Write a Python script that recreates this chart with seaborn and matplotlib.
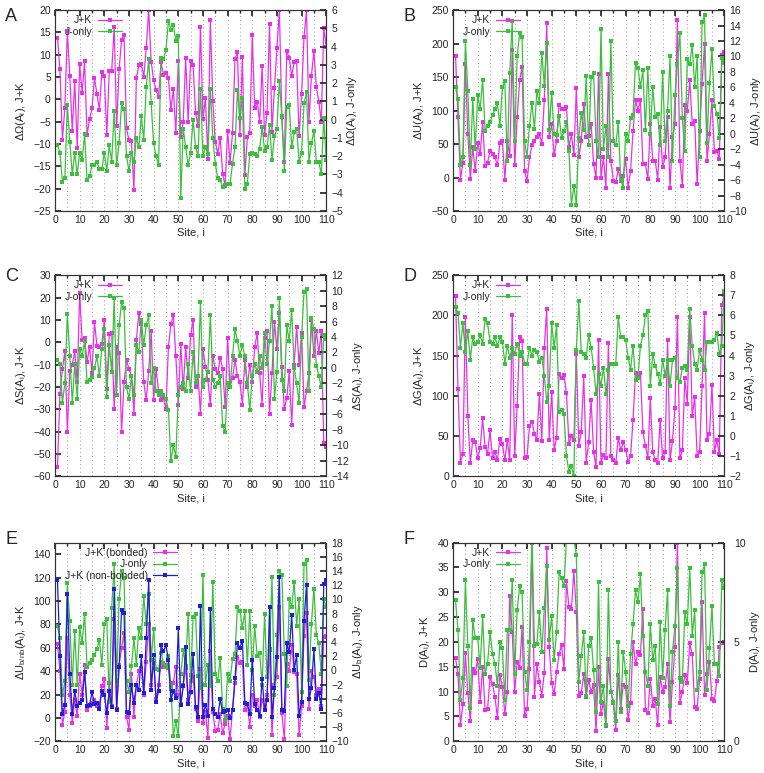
import matplotlib
matplotlib.use('Agg')
import matplotlib.pyplot as plt
from matplotlib.ticker import MultipleLocator
import seaborn as sns

# site index shared by all six panels
site = list(range(1, 111))

# A: free-energy change, J+K (left) and J-only (right)
a_jk = [13.8, 6.7, -9, -2, 15.3, 5.2, -7, 4.2, -10.8, 7.9,
        1.4, 8.5, -8, -4.5, -2, 4.8, 1.2, -2.3, 6.2, 5.3,
        -8, 6.3, 6.4, 16.2, -6, 6.8, 13.3, 14.5, -6.5, -9.2,
        -9.3, -20.3, 4.8, 7.6, 8, 5, 11.5, 20, 8.4, 4.3,
        2, 0.6, 8.3, 5.4, 5.9, 4.8, -2.3, 2.3, -7.5, 8.5,
        -8.5, -5, 9.3, -5, 8.7, 7.8, -3, -6, 16.3, -4.5,
        0.3, -13.3, 17.7, -0.4, -9.5, -12.2, -8.6, -16.7, -19.3, -7,
        -14.2, -7.5, 9, 10.5, -8, 9.5, -17, -8.5, -7.5, 14.5,
        -2, -0.5, -5, 7.5, -8, -3, 16.8, -7.2, 2.5, 11.5,
        20, -4, -14, 10.8, 9.3, 5.2, 8.3, 8.5, -8.3, 1.2,
        14, 20, -5, 5.3, 10.8, 2.7, -0.5, -5, 16, 11.8]
a_j = [-1.4, -1.8, -3.4, -3.2, 0.8, -1.2, -3, -1.8, -3, -1.8,
       -2.2, -0.8, -3.3, -3.1, -2.5, -2.5, -2.3, -2.7, -2.7, -1.8,
       -2.8, -1.4, -2.3, 0.5, -2.5, -1.3, 0.9, 0.6, -2, -2.8,
       -1.8, -2.3, -1, -1.5, 0.2, -1.1, 1.8, 3.3, 0.9, -1.3,
       -2, -2.5, 3.4, 3.3, 3.8, 5.4, 4.9, 5.2, 4.3, 4.6,
       -4.3, -0.5, -1.5, -2.5, -1.8, 0, -1.5, -2, 1.7, -2,
       -1.5, -1.9, 1.7, -1, -2.4, -3.2, -3.3, -3.7, -3.6, -3.5,
       -3.5, -2.4, -1.5, 1.6, 0.1, 1.2, -3.8, -3.5, -1.9, -1.8,
       -1.9, -2, -1.6, -0.4, -1.7, -1.5, -0.3, -2.2, -0.9, -0.5,
       2.1, 0.2, -2.8, 0.7, 0.8, -1.5, -0.7, -0.5, -2.3, -1.8,
       0.9, 1.5, -2.3, -1.3, -0.6, -2.3, -2.3, -3, 0.1, -2.2]

# B: energy change
b_jk = [182, 90, -3, 22, 170, 65, -2, 45, 10, 52,
        35, 83, 17, 22, 40, 35, 30, 18, 52, 55,
        -3, 55, 32, 190, 18, 90, 145, 165, 10, -5,
        30, 48, 55, 60, 65, 50, 115, 230, 60, 80,
        33, 55, 108, 103, 103, 105, 45, 65, 33, 133,
        30, 55, 110, 60, 62, 80, 20, 0, 155, 0,
        30, -15, 155, 25, -5, -7, 12, -5, 2, 27,
        -15, 10, 70, 115, 100, 115, 20, 20, -2, 80,
        25, 25, -3, 75, 15, 30, 90, -15, 60, 80,
        235, 25, -12, 108, 100, 145, 80, 85, -10, 70,
        140, 200, 25, 65, 115, 38, 40, 27, 183, 188]
b_j = [6, 4.5, -4, -3, 12, 5.5, -4, 4.5, -2, 5,
       3.2, 7, 0.4, 1, 1.5, 2.4, 3.2, 4, 1, 6,
       6.8, -3.5, 7.8, 14.6, -1, 10, 13, 12.5, -1, -3,
       1, 4, 0.6, 5.5, 4, 10.5, 6.2, 11.7, 0.5, 5.3,
       0, -0.2, 2.3, -0.5, 0.3, 1.5, -2.2, -9.2, -6.7, -9.2,
       -0.5, 2.7, 0.5, 7.5, -1.5, 7.3, 7.8, -1, -3, 13.5,
       -2, 1, -3, 12, -1, -1.5, 1.5, -6, -7, 0,
       -1, 2, 2.4, 9.2, 8.5, 6, 8.2, 0.5, 8.5, 0,
       6, 2.2, 2.5, -1.5, 8, -1, 3, 10, -3.5, 5,
       9, 13, 2, -2.2, 9.7, 9, 11.5, 6, 10, -3,
       14.4, 15.3, -1.2, 6.5, 11, 3.6, 2.6, -0.5, 9.8, 9.2]

# C: entropy change
c_jk = [-56, -23, -12, -4, -40, -13, -10, -4, -18, 22,
        1, 2, -9, -2, -14, 9, -1.5, -2, -1, 10,
        -21, 3.5, 4, -30, -2, -5, -40, -18, -8, -12,
        -15, -32, 1, 13, 8, -18, -26, -13, 5, -26,
        -12, -22, -26, -25, -30, -2, 8, 12, -6, -28,
        -1, -21, -2, -16, 3, 10, -20, -15, -32, -3,
        -11, -17, -28, -6, -12, -14, -7, -12, -29, 2,
        -20, -16, -8, -15, -18, -28, -8, -20, -10, -18,
        -2, 4, -14, -28, 2, 5, -32, -14, 9, -3,
        13, -11, -30, -25, -13, -37, -10, 7, -10, 4,
        -29, -22, -14, 10, -6, 5, -5, 5, -45, -47]
c_j = [1, 0.5, -4.5, -2, 7, 1.5, -4.5, 0.5, -4, 2.5,
       1.5, 3.5, -1.8, -1.5, -1.2, 0, 1.5, -1, 2.5, 5,
       -3.8, 3, -0.5, 9, -3.5, 5.5, 8.5, 7.8, -2.5, -4,
       -1, -3.5, 3, 2, 6.2, 3, 5.5, 6.8, -2, 0,
       -3, -3.5, -3, -3.5, -4, -5.5, -12, -10, -11.5, -3.5,
       -2.5, -2, -3, 0.5, -3, 2, -2, -1, 8.5, -2.5,
       -1.5, -0.5, 6.8, -1.5, -2.5, -2, -1, -7.5, -8.3, -2,
       -2.5, 1.5, 5, 3.5, 1.5, 3, 1.5, -2, -5.5, -1,
       0.5, -0.5, 1.5, 0, 4.5, 0.5, 3.5, 8, -4, -0.5,
       9, -1.5, -3, 5.5, 3.5, 7.5, 0, -2, -4.5, 4,
       9.8, 10.2, -3, 6.5, 5, 0.3, -1, -2.5, 4.3, 3.8]

# D: Gibbs energy change
d_jk = [224, 108, 17, 28, 198, 75, 16, 45, 43, 22,
        35, 72, 36, 28, 57, 22, 30, 20, 46, 40,
        20, 45, 20, 200, 25, 87, 173, 168, 22, 24,
        62, 68, 53, 45, 102, 44, 160, 208, 45, 105,
        33, 48, 127, 122, 126, 103, 40, 50, 45, 152,
        38, 55, 125, 17, 42, 95, 30, 12, 170, 17,
        26, 22, 166, 25, 20, 16, 48, 32, 42, 33,
        18, 25, 70, 128, 125, 128, 55, 38, 22, 97,
        30, 20, 16, 70, 22, 30, 170, 20, 44, 85,
        198, 22, 32, 122, 90, 198, 75, 98, 25, 30,
        112, 203, 45, 53, 113, 30, 45, 27, 213, 225]
d_j = [6.4, 6.1, 4.4, 5.6, 4.2, 5.2, 3.8, 4.9, 4.6, 4.7,
       5.0, 4.6, 5.8, 5.6, 4.7, 4.6, 4.9, 4.5, 4.9, 4.7,
       3.6, 4.5, 3.9, 4.4, 4.1, 4.6, 4.0, 4.2, 3.6, 3.6,
       4.4, 4.0, 4.3, 4.2, 3.7, 3.9, 3.0, 1.7, 2.5, 5.6,
       4.4, 5.5, 1.2, 1.3, 1.1, -1.0, -1.8, -1.5, -2.0, 4.3,
       6.7, 4.2, 4.1, 3.9, 5.0, 4.4, 3.4, 2.1, 3.1, 2.5,
       3.4, 2.1, 3.3, 3.6, 3.6, 3.6, 5.9, 4.9, 4.9, 4.8,
       3.9, 3.3, 4.5, 2.8, 2.9, 4.5, 5.0, 6.0, 6.2, 2.5,
       4.1, 3.5, 3.1, 2.6, 3.8, 3.0, 3.8, 2.5, 3.8, 3.9,
       2.9, 2.7, 3.4, 3.5, 3.3, 6.3, 4.5, 3.6, 3.3, 4.3,
       3.8, 3.3, 4.7, 4.7, 4.7, 4.8, 5.1, 4.1, 4.5, 7.2]

# E: bonded / non-bonded energy
e_bond = [63, 40, -6, 5, 68, 20, -4, 15, 2, 38,
          20, 45, 7, 10, 13, 15, 10, 11, 27, 33,
          -9, 30, 10, 85, 8, 45, 60, 73, 1, -10,
          38, 1, 28, 40, 43, 20, 48, 80, 28, 47,
          16, 28, 48, 44, 45, 43, 25, 30, 44, 20,
          12, 28, 43, 15, 37, 35, 8, -3, 42, -4,
          5, -17, 57, 5, -11, -10, 3, -13, -5, 2,
          -18, 7, 30, 52, 47, 48, 7, 12, -8, 20,
          10, 15, 1, 15, 10, 20, 58, -15, 28, 35,
          95, 4, -18, 46, 40, 62, 39, 38, -15, 10,
          70, 90, 8, 40, 35, 20, 25, 10, 69, 70]
e_j = [6.3, 4.5, -3.5, -1.5, 12.3, 7, -2, 5.5, -2, 6.1,
       3.8, 8, 0.5, 1, 1.5, 2.2, 3, 4.3, 0.8, 6.5,
       7.3, -4.5, 8.8, 15, -1.5, 10, 14, 13, -1.5, -3,
       0.6, 4.5, 0.8, 6, 4.5, 10.5, 6.5, 10.8, 1.5, 5.8,
       0.2, 0, 2.5, 1, 0.5, 2, -2.3, -9.3, -7.2, -9.3,
       -0.5, 2.8, 0.6, 8, -1.5, 7.5, 8, -0.8, -2.5, 13.5,
       -2, 0.8, -2.2, 12.5, -0.5, -1.5, 1.8, -5.5, -7, -0.5,
       -1.5, 1.6, 2.3, 9, 8.3, 6, 8.3, 0.8, 8.3, 0,
       6.2, 2, 2.5, -2, 8, -1, 3, 13.1, -3.5, 5,
       14, 13.5, 2.3, -2.2, 10, 9, 12.5, 6.3, 10, -3,
       15, 15.5, -1.3, 6.6, 11.5, 5, 3.8, -0.5, 10, 9]
e_nonbond = [118, 53, 3, 11, 106, 38, 3, 23, 10, 13,
             15, 39, 10, 11, 22, 12, 13, 8, 23, 20,
             4, 23, 9, 110, 7, 44, 92, 90, 5, 4,
             28, 13, 28, 24, 53, 21, 68, 118, 24, 54,
             14, 23, 62, 57, 62, 50, 15, 23, 17, 77,
             11, 27, 61, 12, 22, 55, 9, 1, 96, 1,
             11, 2, 93, 8, 3, 1, 16, 5, 6, 7,
             0, 7, 34, 64, 60, 66, 13, 12, 3, 50,
             12, 7, 2, 33, 7, 15, 95, 1, 26, 52,
             121, 7, 6, 64, 56, 88, 41, 54, 2, 14,
             83, 114, 16, 26, 59, 16, 21, 8, 115, 118]

# F: D(A_i)
f_jk = [16.8, 13.5, 3.3, 7.5, 17.7, 9.8, 4, 14.5, 13.8, 16.6,
        8, 15, 6.3, 6.5, 13, 11.5, 8.9, 4.7, 13.4, 11,
        5.5, 10, 29.3, 22, 10, 16, 14.8, 23, 5, 6.5,
        14.5, 40, 9, 15.5, 12, 9.2, 13.8, 39, 19, 11.7,
        9.5, 14, 17.5, 19.4, 14.5, 32.3, 27, 26.6, 34.3, 26,
        9.2, 9.8, 13.5, 9, 12.3, 10, 11.3, 2, 15, 5.5,
        7.8, 3.1, 16.5, 10, 7.7, 2.3, 13.4, 6.6, 11.3, 11,
        4.3, 7.8, 20, 15.5, 18, 17.3, 26.7, 6.4, 5.6, 12.5,
        7.2, 8.5, 3.3, 12.9, 10, 11, 15.5, 3.8, 12, 19,
        40, 7.7, 10, 13.4, 11.8, 19.7, 17.5, 7, 6.6, 12.5,
        28, 9.3, 13.5, 16, 8.5, 8.1, 12.2, 19, 19.8, 20]
f_j = [7.1, 5.6, 2.1, 3.2, 8.1, 4.8, 1.7, 6.1, 5.2, 5.2,
       3.7, 6.3, 3.4, 3.9, 5.5, 4.4, 3.9, 2.8, 5.0, 4.7,
       2.1, 5.6, 5.6, 8.1, 3.4, 6.6, 7.8, 7.5, 3.5, 2.6,
       5.0, 10.5, 4.8, 4.9, 6.5, 4.5, 6.7, 8.8, 5.1, 6.3,
       4.1, 5.5, 8.5, 8.2, 7.8, 10.2, 11, 11.5, 10.2, 9.4,
       3, 4.3, 5.5, 2.3, 4.8, 5.2, 3.6, 1.5, 8, 2,
       2.8, 0.8, 7.6, 2.5, 2, 1, 5, 1.5, 4.5, 3.5,
       1.8, 4.4, 5.9, 7.6, 7, 8.4, 5.3, 3.5, 2.8, 5.9,
       4.1, 4.8, 1.9, 6.0, 3.2, 5.6, 7.6, 1.8, 4.5, 5.8,
       8.7, 3.2, 3, 6.5, 5.9, 8.7, 5.3, 6.6, 2.6, 3.5,
       8.5, 8.9, 2.6, 4.7, 6.8, 3.9, 3.9, 3.3, 8.1, 7.7]

sns.set_theme(style='white')
plt.rcParams['font.family'] = ['Liberation Sans', 'DejaVu Sans']
plt.rcParams['mathtext.default'] = 'regular'

MAGENTA = '#e632e6'
GREEN = '#3cbf3c'
BLUE = '#1e1ed2'
FS = 7.5

fig = plt.figure(figsize=(7.64, 7.73), dpi=100)


def draw(ax, y, color):
    sns.lineplot(x=site, y=y, ax=ax, color=color, marker='s', markersize=2.6,
                 markeredgewidth=0, linewidth=0.9, legend=False)
    return ax.get_lines()[-1]


def panel(rect, letter, letter_y, left, right, llim, lstep, rlim, rstep, llabel, rlabel,
          extra=None, labels=('J+K', 'J-only'), rpad=3.5):
    ax = fig.add_axes(rect)
    ax2 = ax.twinx()
    handles = [draw(ax, left, MAGENTA), draw(ax2, right, GREEN)]
    top = ax2
    if extra is not None:
        # non-bonded series sits above the J-only line
        ax3 = ax.twinx()
        handles.append(draw(ax3, extra, BLUE))
        ax3.set_ylim(llim)
        ax3.axis('off')
        top = ax3

    ax.set_xlim(0, 110)
    ax.set_ylim(llim)
    ax2.set_ylim(rlim)
    ax.xaxis.set_major_locator(MultipleLocator(10))
    ax.xaxis.set_minor_locator(MultipleLocator(5))
    ax.yaxis.set_major_locator(MultipleLocator(lstep))
    ax2.yaxis.set_major_locator(MultipleLocator(rstep))
    ax.grid(axis='x', which='both', linestyle=(0, (1, 3)), color='#999999', linewidth=0.7)

    ax.tick_params(axis='x', which='major', direction='in', top=True, length=4, labelsize=FS, pad=3)
    ax.tick_params(axis='x', which='minor', direction='in', top=True, length=2)
    ax.tick_params(axis='y', direction='in', length=4, labelsize=FS, pad=3)
    ax2.tick_params(axis='y', direction='in', length=4, labelsize=FS, pad=rpad)
    for a in (ax, ax2):
        for s in a.spines.values():
            s.set_color('#333333')
            s.set_linewidth(0.8)

    ax.set_xlabel('Site, i', fontsize=8, labelpad=2)
    ax.set_ylabel(llabel, fontsize=8, labelpad=4)
    ax2.set_ylabel(rlabel, fontsize=8, labelpad=1.5, rotation=90)

    top.legend(handles, labels, loc='upper left', bbox_to_anchor=(0.02, 0.995),
               markerfirst=False, frameon=False, fontsize=FS, handlelength=2.3,
               handletextpad=0.5, labelspacing=0.15, borderaxespad=0)
    fig.text(rect[0] - 0.065, 1 - letter_y / 773, letter, fontsize=13, va='top')


L, R = 0.072, 0.593
W = 0.355
H = 0.260
rows = [0.727, 0.384, 0.041]

panel([L, rows[0], W, H], 'A', 8, a_jk, a_j, (-25, 20), 5, (-5, 6), 1,
      'ΔΩ(A$_i$), J+K', 'ΔΩ(A$_i$), J-only')
panel([R, rows[0], W, H], 'B', 8, b_jk, b_j, (-50, 250), 50, (-10, 16), 2,
      'ΔU(A$_i$), J+K', 'ΔU(A$_i$), J-only')
panel([L, rows[1], W, H], 'C', 268, c_jk, c_j, (-60, 30), 10, (-14, 12), 2,
      'ΔS(A$_i$), J+K', 'ΔS(A$_i$), J-only')
panel([R, rows[1], W, H], 'D', 268, d_jk, d_j, (0, 250), 50, (-2, 8), 1,
      'ΔG(A$_i$), J+K', 'ΔG(A$_i$), J-only')
panel([L, rows[2], W, 0.257], 'E', 531, e_bond, e_j, (-20, 150), 20, (-10, 18), 2,
      'ΔU$_{b/nb}$(A$_i$), J+K', 'ΔU$_b$(A$_i$), J-only',
      extra=e_nonbond, labels=('J+K (bonded)', 'J-only', 'J+K (non-bonded)'))
panel([R, rows[2], W, 0.257], 'F', 531, f_jk, f_j, (0, 40), 5, (0, 10), 5,
      'D(A$_i$), J+K', 'D(A$_i$), J-only', rpad=7)

fig.savefig('out.png', dpi=100)
